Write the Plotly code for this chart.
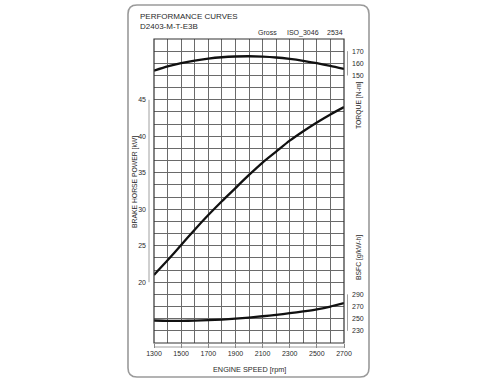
import plotly.graph_objects as go

# ---- data ----
rpm = [1300, 1400, 1500, 1600, 1700, 1800, 1900, 2000, 2100, 2200, 2300, 2400, 2500, 2600, 2700]
torque_nm = [154.0, 157.5, 160.2, 162.3, 163.9, 165.0, 165.6, 165.8, 165.5, 164.8, 163.6, 162.0, 160.1, 157.9, 155.4]
power_kw = [21.0, 23.0, 25.1, 27.2, 29.2, 31.1, 32.9, 34.7, 36.4, 37.9, 39.4, 40.7, 41.9, 43.0, 44.0]
bsfc_g = [247.0, 246.5, 246.5, 246.8, 247.5, 248.5, 250.0, 251.8, 254.0, 256.3, 259.0, 262.0, 265.5, 270.0, 275.5]

x_ticks = [1300, 1500, 1700, 1900, 2100, 2300, 2500, 2700]
kw_ticks = [20, 25, 30, 35, 40, 45]
torque_ticks = [150, 160, 170]
bsfc_ticks = [230, 250, 270, 290]

# ---- layout geometry ----
W, H = 500, 384
L, R, T, B = 154, 344, 39, 343
FONT = "Liberation Sans, Arial, sans-serif"
TXT = "#2a2a2a"
GRID = "#6a6a6a"


def px(xp):
    return (xp - L) / (R - L)


def py(yp):
    return (B - yp) / (B - T)


fig = go.Figure()
line_style = dict(color="#111111", width=2.3, shape="spline", smoothing=0.6)
fig.add_trace(go.Scatter(x=rpm, y=power_kw, mode="lines", line=line_style, yaxis="y", showlegend=False))
fig.add_trace(go.Scatter(x=rpm, y=torque_nm, mode="lines", line=line_style, yaxis="y2", showlegend=False))
fig.add_trace(go.Scatter(x=rpm, y=bsfc_g, mode="lines", line=line_style, yaxis="y3", showlegend=False))

tickfont = dict(family=FONT, size=7, color=TXT)

# rounded outer frame
x0, x1 = px(128), px(369)
y0, y1 = py(377), py(5)
rx, ry = 9 / (R - L), 9 / (B - T)
frame_path = (
    f"M {x0+rx},{y0} L {x1-rx},{y0} Q {x1},{y0} {x1},{y0+ry} "
    f"L {x1},{y1-ry} Q {x1},{y1} {x1-rx},{y1} L {x0+rx},{y1} "
    f"Q {x0},{y1} {x0},{y1-ry} L {x0},{y0+ry} Q {x0},{y0} {x0+rx},{y0} Z"
)

shapes = [
    dict(type="path", path=frame_path, xref="paper", yref="paper",
         line=dict(color="#9a9a9a", width=1.6), layer="below"),
    dict(type="rect", xref="paper", yref="paper", x0=0, x1=1, y0=0, y1=1,
         line=dict(color="#333333", width=1.2)),
    # left axis line (20..45)
    dict(type="line", xref="paper", yref="y", x0=px(149), x1=px(149), y0=20, y1=45,
         line=dict(color="#888888", width=0.8)),
    # right axis lines
    dict(type="line", xref="paper", yref="y2", x0=px(347.5), x1=px(347.5), y0=150, y1=170,
         line=dict(color="#888888", width=0.8)),
    dict(type="line", xref="paper", yref="y3", x0=px(347.5), x1=px(347.5), y0=230, y1=290,
         line=dict(color="#888888", width=0.8)),
    # bottom axis line
    dict(type="line", xref="x", yref="paper", x0=1300, x1=2700, y0=py(347), y1=py(347),
         line=dict(color="#888888", width=0.8)),
]

annotations = [
    dict(text="PERFORMANCE CURVES", x=px(138), y=py(16), xanchor="left", yanchor="middle",
         font=dict(family=FONT, size=8, color=TXT)),
    dict(text="D2403-M-T-E3B", x=px(138), y=py(27), xanchor="left", yanchor="middle",
         font=dict(family=FONT, size=8, color=TXT)),
    dict(text="Gross", x=px(256), y=py(32.5), xanchor="left", yanchor="middle",
         font=dict(family=FONT, size=7, color=TXT)),
    dict(text="ISO_3046", x=px(285), y=py(32.5), xanchor="left", yanchor="middle",
         font=dict(family=FONT, size=7, color=TXT)),
    dict(text="2534", x=px(345), y=py(32.5), xanchor="right", yanchor="middle",
         font=dict(family=FONT, size=7, color=TXT)),
    dict(text="ENGINE SPEED [rpm]", x=0.5, y=py(369), xanchor="center", yanchor="middle",
         font=dict(family=FONT, size=7.3, color=TXT)),
    dict(text="BRAKE HORSE POWER [kW]", x=px(135), y=py(182), xanchor="center", yanchor="middle",
         textangle=-90, font=dict(family=FONT, size=6.8, color=TXT)),
    dict(text="TORQUE [N-m]", x=px(359), y=py(105), xanchor="center", yanchor="middle",
         textangle=-90, font=dict(family=FONT, size=6.8, color=TXT)),
    dict(text="BSFC [g/kW-h]", x=px(359), y=py(258), xanchor="center", yanchor="middle",
         textangle=-90, font=dict(family=FONT, size=6.8, color=TXT)),
]
for a in annotations:
    a.update(xref="paper", yref="paper", showarrow=False)

fig.update_layout(
    width=W, height=H, autosize=False,
    margin=dict(l=L, r=W - R, t=T, b=H - B, pad=0),
    paper_bgcolor="white", plot_bgcolor="white",
    showlegend=False,
    xaxis=dict(
        range=[1300, 2700], tickmode="array", tickvals=x_ticks,
        ticktext=[str(v) for v in x_ticks],
        showgrid=True, gridcolor=GRID, gridwidth=0.9,
        minor=dict(tickmode="linear", tick0=1300, dtick=100, showgrid=True,
                   gridcolor=GRID, gridwidth=0.9, ticks=""),
        ticks="outside", ticklen=4, tickcolor="#888888", tickwidth=0.8,
        showline=False, zeroline=False, tickfont=tickfont, fixedrange=True,
    ),
    yaxis=dict(
        range=[20 - 25 / 3, 45 + 25 / 3], tickmode="array", tickvals=kw_ticks,
        ticktext=[str(v) for v in kw_ticks],
        showgrid=True, gridcolor=GRID, gridwidth=0.9,
        minor=dict(tickmode="linear", tick0=20, dtick=5 / 3, showgrid=True,
                   gridcolor=GRID, gridwidth=0.9, ticks=""),
        ticks="", ticklabelstandoff=7, showline=False, zeroline=False,
        tickfont=tickfont, fixedrange=True,
    ),
    yaxis2=dict(
        range=[-70, 180], overlaying="y", side="right", tickmode="array",
        tickvals=torque_ticks, ticktext=[str(v) for v in torque_ticks],
        showgrid=False, zeroline=False, showline=False, ticks="",
        ticklabelstandoff=7, tickfont=tickfont, fixedrange=True,
    ),
    yaxis3=dict(
        range=[210, 710], overlaying="y", side="right", tickmode="array",
        tickvals=bsfc_ticks, ticktext=[str(v) for v in bsfc_ticks],
        showgrid=False, zeroline=False, showline=False, ticks="",
        ticklabelstandoff=7, tickfont=tickfont, fixedrange=True,
    ),
    shapes=shapes,
    annotations=annotations,
)

fig.write_html("out.html", config={"displayModeBar": False},
               post_script="document.body.style.margin='0';document.body.style.padding='0';")
